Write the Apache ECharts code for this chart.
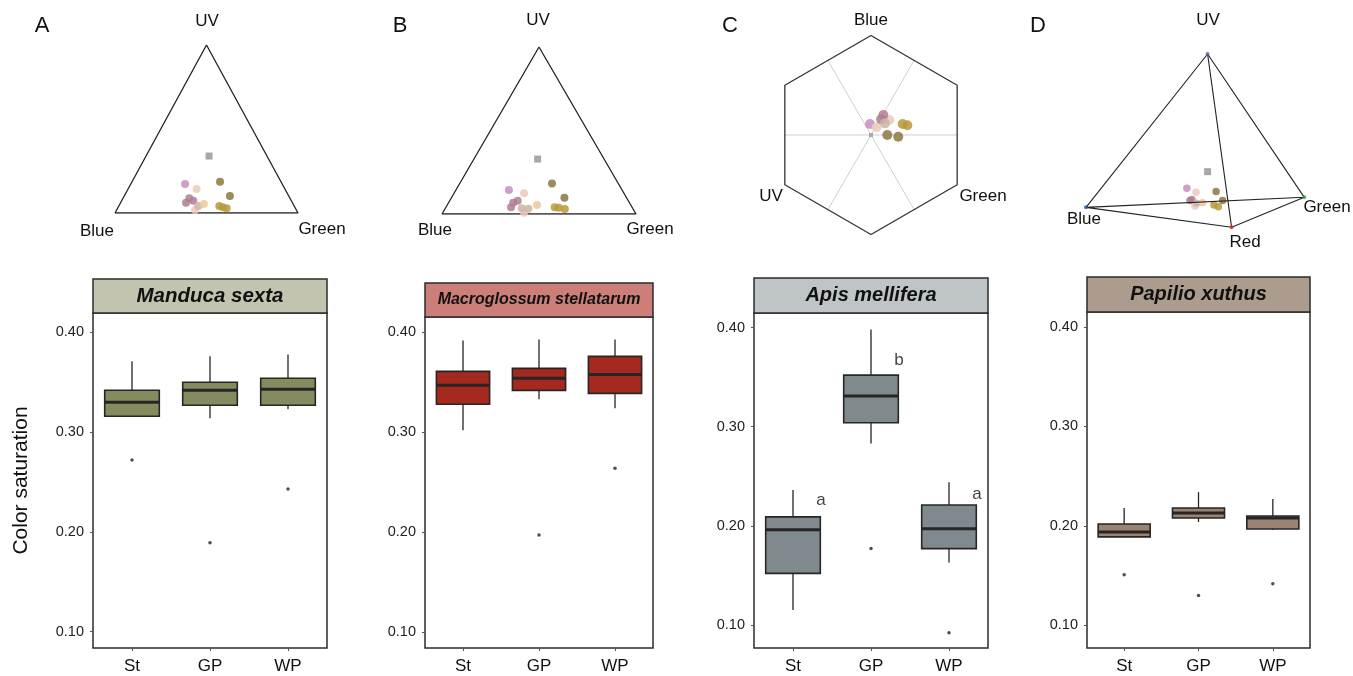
<!DOCTYPE html>
<html>
<head>
<meta charset="utf-8">
<script src="https://cdn.jsdelivr.net/npm/echarts@6/dist/echarts.min.js"></script>
<style>
  html, body { margin: 0; padding: 0; background: #fff; }
  #chart { width: 1353px; height: 676px; }
</style>
</head>
<body>
<div id="chart"></div>
<script>
// groups on the x axis
var groups = ['St', 'GP', 'WP']
var yTicks = [0.1, 0.2, 0.3, 0.4]

// box stats per group: [lower whisker, Q1, median, Q3, upper whisker]
var manducaStats = [[0.316, 0.316, 0.330, 0.342, 0.371], [0.314, 0.327, 0.342, 0.350, 0.376], [0.323, 0.327, 0.343, 0.354, 0.378]]
var manducaOutliers = [['St', 0.272], ['GP', 0.189], ['WP', 0.243]]
var macroStats = [[0.302, 0.328, 0.347, 0.361, 0.392], [0.333, 0.342, 0.354, 0.364, 0.393], [0.324, 0.339, 0.358, 0.376, 0.393]]
var macroOutliers = [['GP', 0.197], ['WP', 0.264]]
var apisStats = [[0.115, 0.152, 0.196, 0.209, 0.236], [0.283, 0.304, 0.331, 0.352, 0.398], [0.163, 0.177, 0.197, 0.221, 0.244]]
var apisOutliers = [['GP', 0.177], ['WP', 0.092]]
var apisLetters = [['St', 0.226, 'a'], ['GP', 0.367, 'b'], ['WP', 0.232, 'a']]
var papilioStats = [[0.189, 0.189, 0.194, 0.202, 0.218], [0.204, 0.208, 0.213, 0.218, 0.234], [0.196, 0.197, 0.208, 0.210, 0.227]]
var papilioOutliers = [['St', 0.151], ['GP', 0.130], ['WP', 0.142]]

// colour space shapes (normalised diagram coordinates)
var triangle = [[0, 0], [1, 0], [0.5, 1], [0, 0]]
var hexagon = [[0, 1], [0.866, 0.5], [0.866, -0.5], [0, -1], [-0.866, -0.5], [-0.866, 0.5], [0, 1]]
var hexSpokes = [[[-0.866, 0], [0.866, 0]], [[-0.433, -0.75], [0.433, 0.75]], [[0.433, -0.75], [-0.433, 0.75]]]
var tetraUV = [0.557, 1], tetraBlue = [0, 0.115], tetraGreen = [1, 0.173], tetraRed = [0.667, 0]

// loci of flower colours in each colour space
var manducaPts = {
  bg: [[0.514, 0.339]],
  pink: [[0.383, 0.173]],
  light: [[0.446, 0.143], [0.437, 0.018]],
  mauve: [[0.388, 0.061], [0.406, 0.088], [0.428, 0.073]],
  tan: [[0.455, 0.042]],
  peach: [[0.486, 0.054]],
  gold: [[0.570, 0.042], [0.589, 0.034], [0.610, 0.028]],
  olive: [[0.574, 0.186], [0.628, 0.101]]
}
var macroPts = {
  bg: [[0.493, 0.329]],
  pink: [[0.345, 0.144]],
  light: [[0.423, 0.124], [0.423, 0.008]],
  mauve: [[0.367, 0.067], [0.390, 0.079], [0.356, 0.040]],
  tan: [[0.411, 0.034], [0.445, 0.032]],
  peach: [[0.490, 0.054]],
  gold: [[0.581, 0.040], [0.602, 0.038], [0.633, 0.030]],
  olive: [[0.567, 0.183], [0.631, 0.097]]
}
var apisPts = {
  bg: [[0, 0]],
  pink: [[-0.010, 0.111]],
  light: [[0.184, 0.151], [0.057, 0.077]],
  mauve: [[0.124, 0.201], [0.101, 0.158]],
  tan: [[0.141, 0.117]],
  peach: [],
  gold: [[0.318, 0.111], [0.365, 0.098]],
  olive: [[0.164, 0.0], [0.274, -0.017]]
}
var papilioPts = {
  bg: [[0.557, 0.321]],
  pink: [[0.462, 0.225]],
  light: [[0.504, 0.202], [0.499, 0.123]],
  mauve: [[0.476, 0.154], [0.485, 0.160]],
  tan: [[0.507, 0.139]],
  peach: [[0.534, 0.142]],
  gold: [[0.586, 0.129], [0.606, 0.119]],
  olive: [[0.596, 0.206], [0.626, 0.154]]
}

var ptColors = {
  pink: '#c98cc2', light: '#ebcbbb', mauve: '#af7f93', tan: '#c9b6a6',
  peach: '#efc79b', gold: '#b99a3a', olive: '#8a7741', bg: '#a8a8a8'
}
var font = 'Liberation Sans, Arial, Helvetica, sans-serif'

var chart = echarts.init(document.getElementById('chart'))

// box panels: grid pixel frames and axis range
var boxPanels = [
  { name: 'Manduca sexta', left: 93, top: 313, width: 234, height: 335, min: 0.0835, max: 0.4195, strip: '#c2c4af', fill: '#868a5f', stats: manducaStats, out: manducaOutliers, stripTop: 279, size: 20.5 },
  { name: 'Macroglossum stellatarum', left: 425, top: 317, width: 228, height: 331, min: 0.0838, max: 0.4155, strip: '#cc7f78', fill: '#a5291f', stats: macroStats, out: macroOutliers, stripTop: 283, size: 16 },
  { name: 'Apis mellifera', left: 754, top: 313, width: 234, height: 335, min: 0.0767, max: 0.4147, strip: '#bfc5c7', fill: '#7f898e', stats: apisStats, out: apisOutliers, stripTop: 278, size: 20 },
  { name: 'Papilio xuthus', left: 1087, top: 312, width: 223, height: 336, min: 0.0773, max: 0.4151, strip: '#ab9c8d', fill: '#9a8370', stats: papilioStats, out: papilioOutliers, stripTop: 277, size: 20 }
]
// diagram panels
var diagPanels = [
  { left: 115, top: 45, width: 183, height: 168, xr: [0, 1], yr: [0, 1], pts: manducaPts, size: 8 },
  { left: 442, top: 47, width: 194, height: 167, xr: [0, 1], yr: [0, 1], pts: macroPts, size: 8 },
  { left: 771.5, top: 35.5, width: 199, height: 199, xr: [-1, 1], yr: [-1, 1], pts: apisPts, size: 10 },
  { left: 1086, top: 54, width: 218.3, height: 173.3, xr: [0, 1], yr: [0, 1], pts: papilioPts, size: 7.5 }
]

var grids = [], xAxes = [], yAxes = [], series = [], graphics = []

function renderBox(color) {
  return function (params, api) {
    var x = api.value(0)
    var lo = api.coord([x, api.value(1)])
    var q1 = api.coord([x, api.value(2)])
    var med = api.coord([x, api.value(3)])
    var q3 = api.coord([x, api.value(4)])
    var hi = api.coord([x, api.value(5)])
    var w = api.size([1, 0])[0] * 0.7
    var line = { stroke: '#262626', lineWidth: 1.3 }
    return {
      type: 'group',
      children: [
        { type: 'line', shape: { x1: hi[0], y1: hi[1], x2: q3[0], y2: q3[1] }, style: line },
        { type: 'line', shape: { x1: lo[0], y1: lo[1], x2: q1[0], y2: q1[1] }, style: line },
        { type: 'rect', shape: { x: q3[0] - w / 2, y: q3[1], width: w, height: q1[1] - q3[1] }, style: { fill: color, stroke: '#262626', lineWidth: 1.6 } },
        { type: 'line', shape: { x1: med[0] - w / 2, y1: med[1], x2: med[0] + w / 2, y2: med[1] }, style: { stroke: '#262626', lineWidth: 3 } }
      ]
    }
  }
}

boxPanels.forEach(function (p, i) {
  grids.push({ left: p.left, top: p.top, width: p.width, height: p.height, show: true, borderColor: '#2b2b2b', borderWidth: 1.5 })
  xAxes.push({
    type: 'category', gridIndex: i, data: groups,
    axisLine: { show: false },
    axisTick: { show: true, alignWithLabel: true, length: 3, lineStyle: { color: '#555' } },
    axisLabel: { fontSize: 17, color: '#111', fontFamily: font, margin: 10 }
  })
  yAxes.push({
    type: 'value', gridIndex: i, min: p.min, max: p.max,
    name: i === 0 ? 'Color saturation' : '',
    nameLocation: 'middle', nameGap: 61,
    nameTextStyle: { fontSize: 21, color: '#111', fontFamily: font },
    splitLine: { show: false },
    axisLine: { show: false },
    axisTick: { show: true, length: 3, customValues: yTicks, lineStyle: { color: '#555' } },
    axisLabel: { fontSize: 14.5, color: '#222', fontFamily: font, margin: 9, customValues: yTicks, formatter: function (v) { return v.toFixed(2) } }
  })
  series.push({
    type: 'custom', xAxisIndex: i, yAxisIndex: i,
    renderItem: renderBox(p.fill),
    encode: { x: 0, y: [1, 2, 3, 4, 5] },
    data: p.stats.map(function (s, k) { return [k].concat(s) })
  })
  series.push({
    type: 'scatter', xAxisIndex: i, yAxisIndex: i, symbolSize: 3.5,
    itemStyle: { color: '#222' }, data: p.out, z: 3
  })
  graphics.push({
    type: 'rect', shape: { x: p.left, y: p.stripTop, width: p.width, height: p.top - p.stripTop },
    style: { fill: p.strip, stroke: '#2b2b2b', lineWidth: 1.5 }
  })
  graphics.push({
    type: 'text', x: p.left + p.width / 2, y: (p.stripTop + p.top) / 2,
    style: { text: p.name, fontSize: p.size, fontWeight: 'bold', fontStyle: 'italic', fontFamily: font, fill: '#111', align: 'center', verticalAlign: 'middle' }
  })
})

series.push({
  type: 'scatter', xAxisIndex: 2, yAxisIndex: 2, symbolSize: 1,
  itemStyle: { color: 'rgba(0,0,0,0)' },
  data: apisLetters,
  label: { show: true, position: 'inside', offset: [28, 0], fontSize: 17, color: '#111', fontFamily: font, formatter: function (d) { return d.data[2] } }
})

diagPanels.forEach(function (p, j) {
  var gi = 4 + j
  grids.push({ left: p.left, top: p.top, width: p.width, height: p.height })
  xAxes.push({ type: 'value', gridIndex: gi, min: p.xr[0], max: p.xr[1], show: false })
  yAxes.push({ type: 'value', gridIndex: gi, min: p.yr[0], max: p.yr[1], show: false })
  var edge = function (data, color, width, z) {
    series.push({
      type: 'line', xAxisIndex: gi, yAxisIndex: gi, data: data, symbol: 'none', silent: true, z: z,
      lineStyle: { color: color, width: width }
    })
  }
  if (j < 2) edge(triangle, '#222', 1.3, 2)
  if (j === 2) {
    hexSpokes.forEach(function (s) { edge(s, '#cfcfcf', 1, 1) })
    edge(hexagon, '#333', 1.3, 2)
  }
  if (j === 3) {
    edge([tetraBlue, tetraUV, tetraGreen, tetraBlue, tetraRed, tetraGreen], '#222', 1.1, 4)
    edge([tetraUV, tetraRed], '#222', 1.1, 4)
    var vc = [['#7b4fa8', tetraUV], ['#2a4fb0', tetraBlue], ['#2ea043', tetraGreen], ['#e02020', tetraRed]]
    vc.forEach(function (v) {
      series.push({ type: 'scatter', xAxisIndex: gi, yAxisIndex: gi, symbolSize: 4, z: 5, itemStyle: { color: v[0] }, data: [v[1]] })
    })
  }
  Object.keys(ptColors).forEach(function (k) {
    var isBg = k === 'bg'
    series.push({
      type: 'scatter', xAxisIndex: gi, yAxisIndex: gi, z: 3,
      symbol: isBg ? 'rect' : 'circle',
      symbolSize: isBg ? (j === 2 ? 4 : 7) : p.size,
      itemStyle: { color: ptColors[k], opacity: isBg ? 1 : 0.85 },
      data: p.pts[k]
    })
  })
})

// vertex and panel labels
var labels = [
  ['A', 42, 26, 22], ['B', 400, 26, 22], ['C', 730, 26, 22], ['D', 1038, 26, 22],
  ['UV', 207, 21, 17], ['Blue', 97, 231, 17], ['Green', 322, 229, 17],
  ['UV', 538, 20, 17], ['Blue', 435, 230, 17], ['Green', 650, 229, 17],
  ['Blue', 871, 20, 17], ['UV', 771, 196, 17], ['Green', 983, 196, 17],
  ['UV', 1208, 20, 17], ['Blue', 1084, 219, 17], ['Green', 1327, 207, 17], ['Red', 1245, 242, 17]
]
labels.forEach(function (l) {
  graphics.push({
    type: 'text', x: l[1], y: l[2], z: 10,
    style: { text: l[0], fontSize: l[3], fontFamily: font, fill: '#111', align: 'center', verticalAlign: 'middle' }
  })
})

chart.setOption({
  animation: false,
  grid: grids,
  xAxis: xAxes,
  yAxis: yAxes,
  series: series,
  graphic: graphics
})
</script>
</body>
</html>
